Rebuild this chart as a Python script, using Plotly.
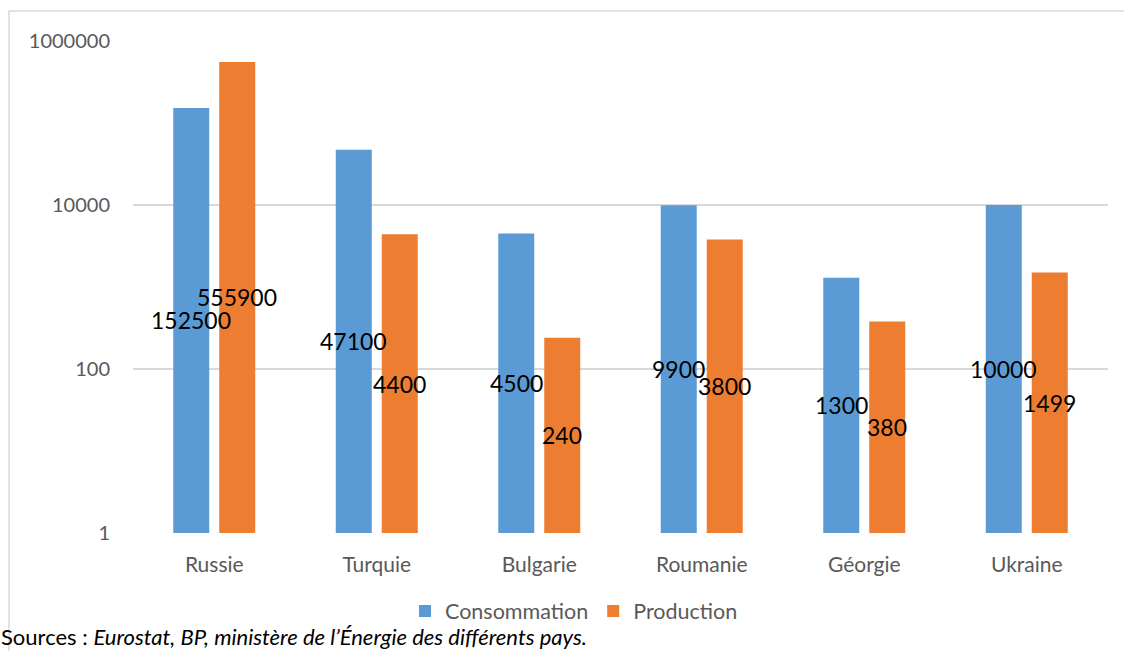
import math
import plotly.graph_objects as go

countries = ["Russie", "Turquie", "Bulgarie", "Roumanie", "Géorgie", "Ukraine"]
consommation = [152500, 47100, 4500, 9900, 1300, 10000]
production = [555900, 4400, 240, 3800, 380, 1499]
y_ticks = [1, 100, 10000, 1000000]

BLUE = "#5B9BD5"
ORANGE = "#ED7D31"
GRID = "#D9D9D9"
FONT = "Lato"
BARGAP = 0.434
GROUPGAP = 0.217

fig = go.Figure()
fig.add_trace(go.Bar(name="Consommation", x=countries, y=consommation,
                     marker=dict(color=BLUE, line=dict(width=0))))
fig.add_trace(go.Bar(name="Production", x=countries, y=production,
                     marker=dict(color=ORANGE, line=dict(width=0))))

L, R, T, B = 133, 16, 41, 118
W, H = 1124, 651
pw, ph = W - L - R, H - T - B

def px_x(p):
    return (p - L) / pw

def px_y(p):
    return (H - B - p) / ph

# data labels at the middle of each bar (log space), centred on each bar
offset = (1 - BARGAP) / 4
annotations = []
for i, (c, p) in enumerate(zip(consommation, production)):
    for val, dx in ((c, -offset), (p, offset)):
        annotations.append(dict(x=i + dx, y=math.log10(val) / 2, xref="x", yref="y",
                                text=str(val), showarrow=False,
                                font=dict(family=FONT, size=23, color="#000000"),
                                xanchor="center", yanchor="middle"))

annotations.append(dict(x=px_x(0), y=px_y(651), xref="paper", yref="paper",
                        xanchor="left", yanchor="bottom", borderpad=0,
                        text="Sources : <i>Eurostat, BP, ministère de l’Énergie des différents pays.</i>",
                        showarrow=False, font=dict(family=FONT, size=22, color="#000000")))

fig.update_layout(
    width=W, height=H,
    margin=dict(l=L, r=R, t=T, b=B),
    paper_bgcolor="white", plot_bgcolor="white",
    barmode="group", bargap=BARGAP, bargroupgap=GROUPGAP,
    font=dict(family=FONT, color="#595959"),
    xaxis=dict(showgrid=False, showline=False, zeroline=False, ticks="",
               tickfont=dict(size=21, color="#595959"), ticklabelstandoff=17),
    yaxis=dict(type="log", range=[0, 6], tickvals=y_ticks, ticktext=[str(v) for v in y_ticks],
               showgrid=True, gridcolor=GRID, gridwidth=1.5, showline=False, zeroline=False,
               ticks="", tickfont=dict(size=20, color="#595959"), ticklabelstandoff=22),
    legend=dict(orientation="h", x=px_x(574), xanchor="center", y=px_y(611), yanchor="middle",
                font=dict(family=FONT, size=21.5, color="#595959"), traceorder="normal",
                bgcolor="rgba(0,0,0,0)", borderwidth=0),
    annotations=annotations,
    shapes=[dict(type="rect", xref="paper", yref="paper",
                 x0=px_x(9), x1=px_x(1130), y0=px_y(700), y1=px_y(11),
                 line=dict(color=GRID, width=1.5), fillcolor="rgba(0,0,0,0)", layer="below")],
)

fig.write_html("out.html")
